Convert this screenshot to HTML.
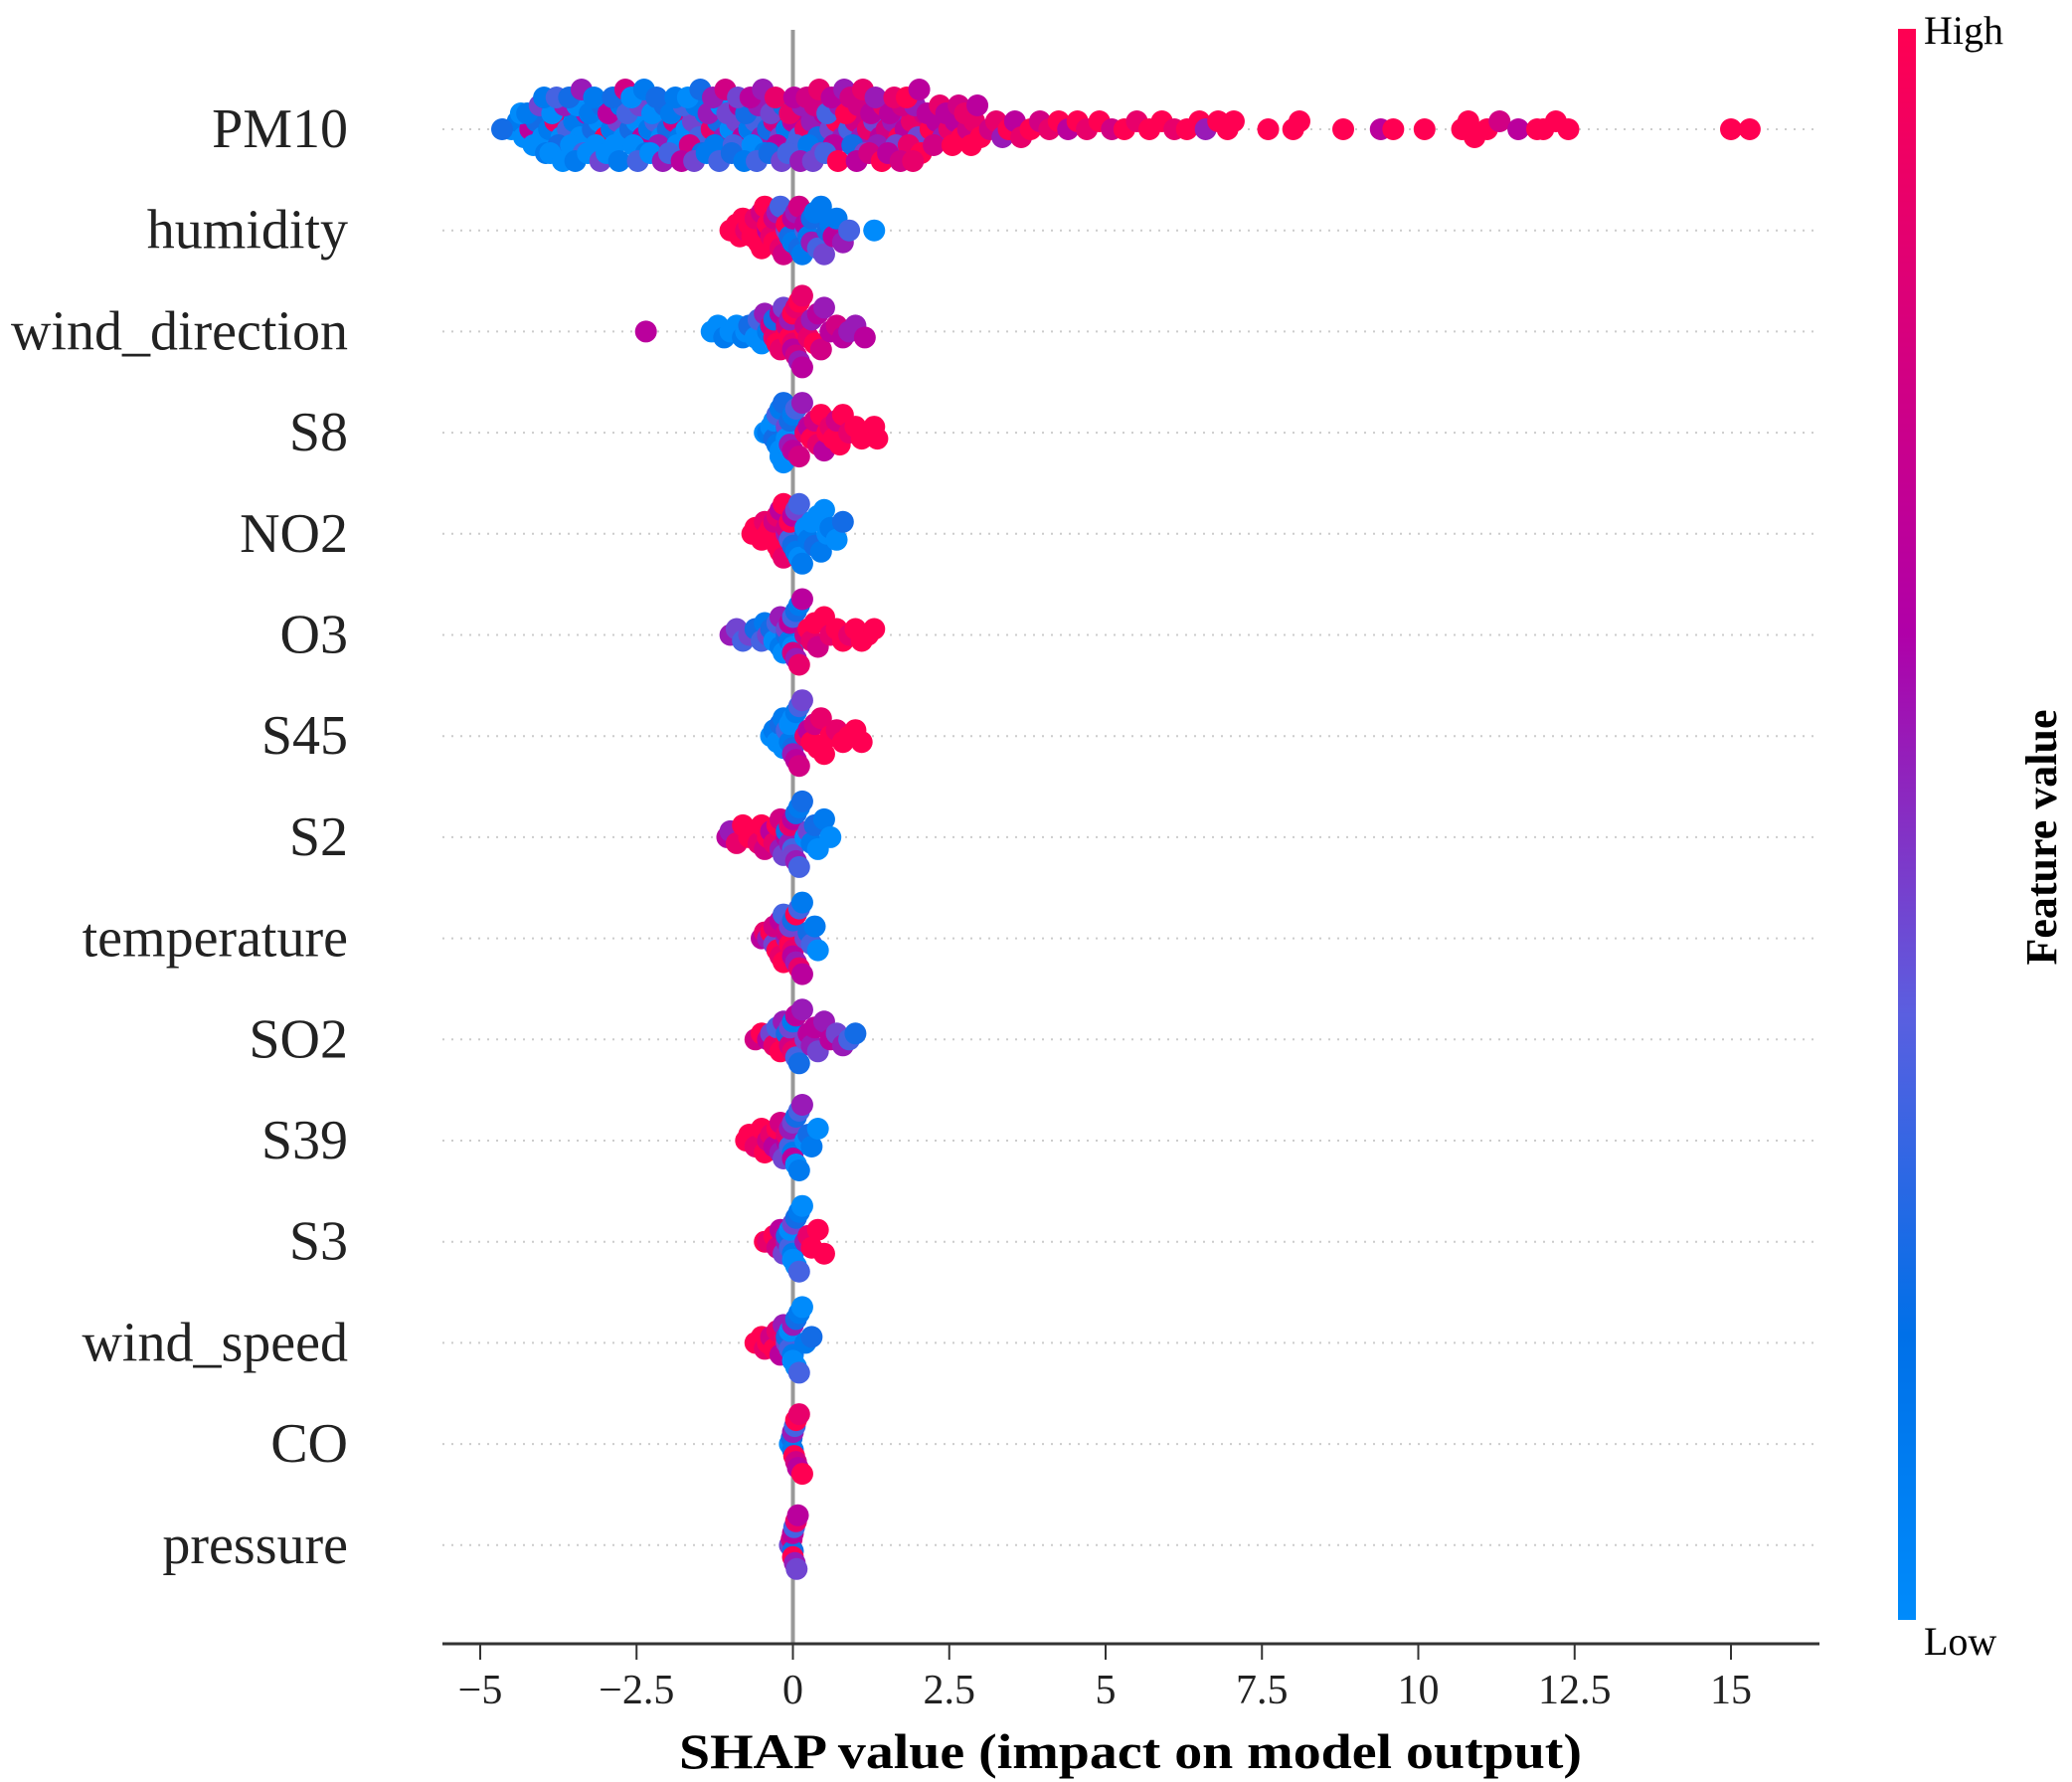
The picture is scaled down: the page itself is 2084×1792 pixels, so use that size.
<!DOCTYPE html>
<html><head><meta charset="utf-8"><style>
html,body{margin:0;padding:0;background:#fff;}
svg{display:block;font-family:"Liberation Serif",serif;}
</style></head><body>
<svg id="chart" width="2084" height="1792" viewBox="0 0 2084 1792" xmlns="http://www.w3.org/2000/svg">
<defs><linearGradient id="cmap" x1="0" y1="1" x2="0" y2="0">
<stop offset="0" stop-color="#008bfb"/><stop offset="0.18" stop-color="#0070e8"/><stop offset="0.38" stop-color="#5a5fe0"/><stop offset="0.62" stop-color="#b000a8"/><stop offset="1" stop-color="#ff0052"/></linearGradient></defs>
<g id="grid"></g><g id="dots"></g><g id="axes"></g>
<rect x="1909" y="29" width="18" height="1600" fill="url(#cmap)"/>
<text x="1935" y="44" font-size="40">High</text>
<text x="1935" y="1664" font-size="40">Low</text>
<text transform="translate(2068,842) rotate(-90)" text-anchor="middle" font-size="44" font-weight="bold">Feature value</text>
<text x="1137" y="1778" text-anchor="middle" font-size="50" font-weight="bold" textLength="908" lengthAdjust="spacingAndGlyphs">SHAP value (impact on model output)</text>
</svg>
<script>
const features=["PM10","humidity","wind_direction","S8","NO2","O3","S45","S2","temperature","SO2","S39","S3","wind_speed","CO","pressure"];
const tickValues=[-5,-2.5,0,2.5,5,7.5,10,12.5,15];
const tickLabels=["\u22125","\u22122.5","0","2.5","5","7.5","10","12.5","15"];
const shapValues=[
[-4.5,-4.4,-4.3,-4.2,-4.1,-4.0,-3.9,-3.8,-3.7,-3.6,-3.5,-3.4,-3.3,-3.2,-3.1,-3.0,-2.9,-2.8,-2.7,-2.6,-2.5,-2.4,-2.3,-2.2,-2.1,-2.0,-1.9,-1.8,-1.7,-1.6,-1.5,-1.4,-1.3,-1.2,-1.1,-1.0,-0.9,-0.8,-0.7,-0.6,-0.5,-0.4,-0.3,-0.2,-0.1,0.0,0.1,0.2,0.3,0.4,0.5,0.6,0.7,0.8,0.9,1.0,1.1,1.2,1.3,1.4,1.5,1.6,1.7,1.8,1.9,2.0,2.1,2.2,2.3,2.4,2.5,2.6,2.7,2.8,2.9,3.0,
-4.65,-4.35,-4.25,-4.15,-4.05,-3.95,-3.85,-3.75,-3.65,-3.55,-3.45,-3.35,-3.25,-3.15,-3.05,-2.95,-2.85,-2.75,-2.65,-2.55,-2.45,-2.35,-2.25,-2.15,-2.05,-1.95,-1.85,-1.75,-1.65,-1.55,-1.45,-1.35,-1.25,-1.15,-1.05,-0.95,-0.85,-0.75,-0.65,-0.55,-0.45,-0.35,-0.25,-0.15,-0.05,0.05,0.15,0.25,0.35,0.45,0.55,0.65,0.75,0.85,0.95,1.05,1.15,1.25,1.35,1.45,1.55,1.65,1.75,1.85,1.95,2.05,2.15,2.25,2.35,2.45,2.55,2.65,2.75,2.85,2.95,
-3.98,-3.88,-3.78,-3.68,-3.58,-3.48,-3.38,-3.28,-3.18,-3.08,-2.98,-2.88,-2.78,-2.68,-2.58,-2.48,-2.38,-2.28,-2.18,-2.08,-1.98,-1.88,-1.78,-1.68,-1.58,-1.48,-1.38,-1.28,-1.18,-1.08,-0.98,-0.88,-0.78,-0.68,-0.58,-0.48,-0.38,-0.28,-0.18,-0.08,0.02,0.12,0.22,0.32,0.42,0.52,0.62,0.72,0.82,0.92,1.02,1.12,1.22,1.32,1.42,1.52,1.62,1.72,1.82,1.92,2.02,
3.15,3.25,3.35,3.45,3.55,3.65,3.8,3.95,4.1,4.25,4.4,4.55,4.7,4.9,5.1,5.3,5.5,5.7,5.9,6.1,6.3,6.5,6.6,6.8,6.95,7.05,
7.6,8.0,8.1,8.8,9.4,9.6,10.1,10.7,10.8,10.9,11.1,11.3,11.6,11.9,12.0,12.2,12.4,15.0,15.3],
[-1.0,-0.9,-0.85,-0.8,-0.75,-0.7,-0.65,-0.6,-0.55,-0.5,-0.5,-0.45,-0.4,-0.4,-0.35,-0.3,-0.3,-0.25,-0.2,-0.2,-0.15,-0.1,-0.1,-0.05,0,0,0.05,0.1,0.1,0.15,0.2,0.2,0.25,0.3,0.3,0.35,0.4,0.45,0.5,0.55,0.6,0.65,0.7,0.8,0.9,1.3],
[-2.35,-1.3,-1.2,-1.1,-1.0,-0.9,-0.8,-0.75,-0.7,-0.6,-0.55,-0.5,-0.45,-0.4,-0.35,-0.3,-0.3,-0.25,-0.2,-0.2,-0.15,-0.1,-0.1,-0.05,-0.05,0,0,0,0.05,0.05,0.1,0.1,0.15,0.15,0.2,0.2,0.25,0.3,0.35,0.4,0.45,0.5,0.6,0.7,0.8,0.9,1.0,1.15],
[-0.45,-0.4,-0.35,-0.3,-0.3,-0.25,-0.25,-0.2,-0.2,-0.2,-0.15,-0.15,-0.1,-0.1,-0.1,-0.05,-0.05,0,0,0.05,0.1,0.15,0.2,0.25,0.3,0.35,0.4,0.45,0.5,0.55,0.6,0.65,0.7,0.75,0.8,0.9,1.0,1.1,1.2,1.3,1.35],
[-0.65,-0.6,-0.5,-0.45,-0.4,-0.35,-0.3,-0.3,-0.25,-0.25,-0.2,-0.2,-0.15,-0.15,-0.1,-0.1,-0.05,-0.05,0,0,0.05,0.05,0.1,0.1,0.15,0.2,0.2,0.25,0.3,0.35,0.4,0.45,0.5,0.55,0.6,0.7,0.8],
[-1.0,-0.9,-0.8,-0.7,-0.6,-0.5,-0.45,-0.4,-0.35,-0.3,-0.25,-0.2,-0.2,-0.15,-0.1,-0.1,-0.05,-0.05,0,0,0,0.05,0.05,0.1,0.1,0.15,0.2,0.25,0.3,0.35,0.4,0.5,0.6,0.7,0.8,0.9,1.0,1.1,1.2,1.3],
[-0.35,-0.3,-0.25,-0.2,-0.15,-0.15,-0.1,-0.1,-0.05,-0.05,0,0,0,0.05,0.05,0.1,0.1,0.15,0.2,0.25,0.3,0.35,0.4,0.45,0.5,0.6,0.7,0.8,0.9,1.0,1.1],
[-1.05,-1.0,-0.9,-0.8,-0.7,-0.6,-0.55,-0.5,-0.45,-0.4,-0.35,-0.3,-0.25,-0.2,-0.2,-0.15,-0.1,-0.1,-0.05,-0.05,0,0,0,0.05,0.05,0.1,0.1,0.15,0.2,0.25,0.3,0.35,0.4,0.5,0.6],
[-0.5,-0.45,-0.4,-0.35,-0.3,-0.3,-0.25,-0.2,-0.2,-0.15,-0.15,-0.1,-0.1,-0.05,-0.05,0,0,0,0.05,0.05,0.1,0.1,0.15,0.15,0.2,0.25,0.3,0.35,0.4],
[-0.6,-0.5,-0.4,-0.35,-0.3,-0.25,-0.2,-0.15,-0.1,-0.1,-0.05,-0.05,0,0,0.05,0.05,0.1,0.15,0.2,0.25,0.3,0.35,0.4,0.5,0.6,0.7,0.8,0.9,1.0],
[-0.75,-0.7,-0.6,-0.5,-0.45,-0.4,-0.35,-0.3,-0.25,-0.2,-0.2,-0.15,-0.1,-0.1,-0.05,-0.05,0,0,0,0.05,0.05,0.1,0.1,0.15,0.2,0.25,0.3,0.4],
[-0.45,-0.4,-0.3,-0.25,-0.2,-0.15,-0.1,-0.1,-0.05,-0.05,0,0,0,0.05,0.05,0.1,0.1,0.15,0.2,0.25,0.3,0.4,0.5],
[-0.6,-0.5,-0.45,-0.4,-0.35,-0.3,-0.25,-0.2,-0.15,-0.1,-0.1,-0.05,-0.05,0,0,0,0.05,0.05,0.1,0.1,0.15,0.2,0.3],
[-0.05,-0.02,0,0,0.02,0.03,0.05,0.05,0.08,0.1,0.15],
[-0.05,-0.02,0,0,0,0.02,0.03,0.05,0.06,0.08]
];
const featureValues=[
[0,1,0,6,2,0,1,8,0,3,1,0,5,2,0,9,1,4,0,2,0,6,1,3,0,2,7,1,0,4,3,1,8,2,5,0,4,6,1,3,5,2,7,4,1,6,3,8,5,2,6,4,9,5,3,7,5,8,4,6,7,5,9,6,8,4,7,9,6,5,8,6,9,7,8,9,
2,0,1,0,4,1,0,2,5,0,0,3,1,0,2,6,0,1,3,0,4,1,0,5,2,1,0,3,7,1,2,5,1,0,4,3,6,2,0,5,1,4,6,2,8,3,5,1,7,4,3,6,5,9,2,7,4,6,5,8,6,4,7,8,5,9,6,7,8,6,9,7,8,9,6,
1,0,3,0,2,1,5,0,1,4,0,2,1,7,0,3,1,0,2,5,3,1,6,0,4,2,1,5,3,7,2,4,1,6,3,5,2,8,4,3,6,5,7,4,8,3,6,9,5,7,6,8,7,5,9,6,8,7,9,8,6,
7,8,5,9,6,8,9,7,8,9,6,9,8,9,7,9,8,9,9,8,9,9,5,9,9,9,
9,9,9,9,6,9,9,9,9,9,9,7,6,9,9,9,9,9,9],
[9,9,9,9,8,9,9,8,9,7,9,9,6,9,8,7,9,5,8,3,7,4,9,2,6,1,5,2,7,1,3,6,1,2,5,1,3,1,4,2,1,6,1,5,3,0],
[6,0,0,1,0,0,1,0,2,0,3,0,5,1,7,8,2,9,6,8,4,9,7,9,5,8,9,6,8,7,9,5,8,6,9,7,8,5,9,6,7,5,6,7,6,5,5,6],
[0,1,0,2,0,1,3,0,1,0,2,0,1,4,0,2,5,1,6,3,7,5,8,6,9,7,8,9,6,9,8,9,7,9,9,8,9,9,9,9,9],
[9,9,9,8,9,9,9,7,9,8,9,6,8,9,5,7,3,9,2,6,1,4,0,3,1,2,0,1,0,2,0,1,0,0,1,0,2],
[5,4,3,4,2,3,1,4,2,0,3,1,5,0,2,4,1,6,0,3,7,2,5,1,8,6,7,9,8,9,7,9,8,9,9,8,9,9,9,9],
[0,1,0,2,0,1,0,3,1,0,2,0,5,1,6,3,7,4,8,6,9,7,9,8,9,9,8,9,9,9,9],
[6,5,8,9,9,9,8,9,7,9,6,8,9,5,7,4,6,2,5,8,3,6,4,2,5,1,3,2,0,4,1,2,0,1,0],
[6,8,5,9,4,7,9,6,8,3,9,5,7,9,4,8,2,6,9,5,3,8,1,6,4,2,3,1,0],
[7,9,6,4,8,3,9,5,9,2,7,4,8,1,3,6,2,5,4,6,5,6,4,5,6,4,5,3,2],
[9,9,8,9,9,7,8,6,9,5,7,4,6,8,3,5,1,4,6,2,0,3,1,5,0,2,1,0],
[9,8,9,7,6,4,5,2,3,0,1,4,0,2,0,1,3,0,5,8,9,9,9],
[9,9,8,9,7,9,8,6,5,4,2,3,0,1,5,0,2,0,1,3,0,1,2],
[0,2,1,5,9,3,7,9,6,8,9],
[4,7,2,6,9,3,5,8,4,6]
];
const NS="http://www.w3.org/2000/svg";
const X0=797.5, PXU=62.9, ROW0=130, ROWSTEP=101.7, AX_L=445, AX_R=1830, AX_Y=1653;
function xs(v){return X0+v*PXU;}
function ys(i){return ROW0+i*ROWSTEP;}
const stops=[[0,[0,139,251]],[0.18,[0,112,232]],[0.38,[90,95,224]],[0.62,[176,0,168]],[1,[255,0,82]]];
function cmap(t){for(let k=1;k<stops.length;k++){if(t<=stops[k][0]){const a=stops[k-1],b=stops[k];const f=(t-a[0])/(b[0]-a[0]);const c=a[1].map((v,j)=>Math.round(v+(b[1][j]-v)*f));return `rgb(${c[0]},${c[1]},${c[2]})`;}}return "rgb(255,0,82)";}
function mk(tag,attrs,parent){const e=document.createElementNS(NS,tag);for(const k in attrs)e.setAttribute(k,attrs[k]);parent.appendChild(e);return e;}
const grid=document.getElementById('grid'),dots=document.getElementById('dots'),axes=document.getElementById('axes');
features.forEach((f,i)=>{
  const gl=mk('line',{x1:AX_L,x2:AX_R,y1:ys(i),y2:ys(i),stroke:'#cccccc','stroke-width':2,'stroke-dasharray':'2,7'},grid);
  
  
  const t=mk('text',{x:350,y:ys(i)+18,'text-anchor':'end','font-size':56,fill:'#222'},axes);
  t.textContent=f;
  
  
});
const zl=mk('line',{x1:xs(0),x2:xs(0),y1:30,y2:AX_Y,stroke:'#999','stroke-width':4},grid);


const BIN=20, R=11;
features.forEach((f,i)=>{
  const vals=shapValues[i], cols=featureValues[i];
  const DY=(i===0?8:6);
  const counts={};
  vals.forEach((v,j)=>{
    const px=xs(v);
    const b=Math.round(px/BIN);
    const k=counts[b]||0; counts[b]=k+1;
    const off=(k===0?0:(k%2?-1:1)*Math.ceil(k/2)*DY);
    const c=mk('circle',{cx:px,cy:ys(i)+off,r:R,fill:cmap(((cols[j]??5))/9)},dots);
    
    
  });
});
const al=mk('line',{x1:AX_L,x2:AX_R,y1:AX_Y,y2:AX_Y,stroke:'#333','stroke-width':3},axes);


tickValues.forEach((v,k)=>{
  const tk=mk('line',{x1:xs(v),x2:xs(v),y1:AX_Y,y2:AX_Y+16,stroke:'#333','stroke-width':2},axes);
  
  
  const tl=mk('text',{x:xs(v),y:1713,'text-anchor':'middle','font-size':42,fill:'#222'},axes);
  tl.textContent=tickLabels[k];
  
  
});
</script>
</body></html>
